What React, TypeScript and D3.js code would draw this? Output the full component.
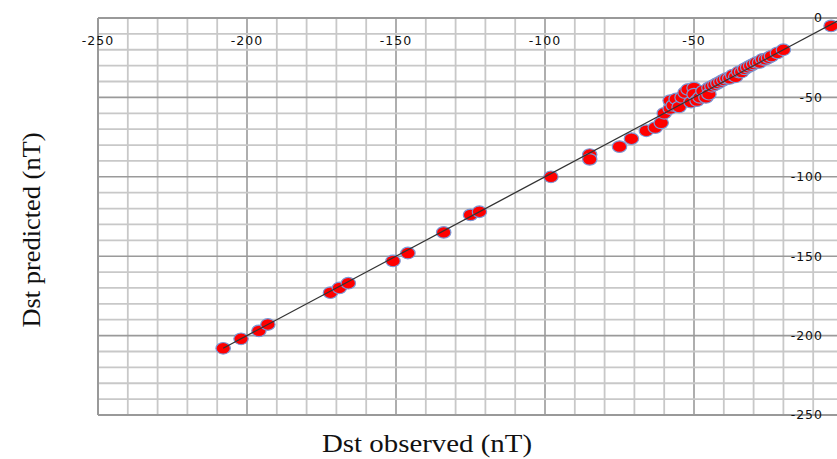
import * as d3 from 'd3';

const observed = [
  -208, -202, -196, -193, -172, -169, -166, -151, -146, -134, -125, -122,
  -98, -85, -85, -75, -71, -66, -63, -61,
  -60, -58, -58, -57, -56, -55, -54, -53, -52, -51, -50, -50, -49, -48, -47,
  -46, -45, -45, -44, -43, -42, -41, -40, -39, -38, -37, -36, -35, -34, -33,
  -32, -31, -30, -29, -28, -27, -26, -25, -24, -22, -20, -4,
];
const predicted = [
  -208, -202, -197, -193, -173, -170, -167, -153, -148, -135, -124, -122,
  -100, -86, -89, -81, -76, -71, -69, -66,
  -60, -57, -52, -55, -51, -56, -50, -47, -45, -53, -44, -48, -52, -50, -46,
  -50, -44, -48, -43, -42, -41, -40, -39, -38, -38, -36, -37, -34, -34, -32,
  -31, -30, -29, -28, -28, -26, -26, -25, -24, -22, -20, -5,
];
// the x axis' 0 falls just past the right edge of the crop
const xTicks = [-250, -200, -150, -100, -50];
const yTicks = [0, -50, -100, -150, -200, -250];

const W = 837;
const H = 459;

export default function App() {
  const x = d3.scaleLinear().domain([-250, 0]).range([98, 843]);
  const y = d3.scaleLinear().domain([0, -250]).range([18, 415]);

  const minor = d3.range(-250, 1, 10);
  const points = observed.map((o, i) => ({ o, p: predicted[i] }));

  return (
    <svg width={W} height={H} style={{ position: 'absolute', left: 0, top: 0, background: '#fff' }}>
      {/* grid */}
      {minor.map((v) => (
        <line key={'gx' + v} x1={x(v)} x2={x(v)} y1={y(0)} y2={y(-250)}
          stroke={v % 50 === 0 ? '#9a9a9a' : '#c8c8c8'} strokeWidth={v % 50 === 0 ? 1.6 : 1.8} />
      ))}
      {minor.map((v) => (
        <line key={'gy' + v} x1={x(-250)} x2={W} y1={y(v)} y2={y(v)}
          stroke={v % 50 === 0 ? '#9a9a9a' : '#c8c8c8'} strokeWidth={v % 50 === 0 ? 1.6 : 1.8} />
      ))}
      <line x1={x(-250)} x2={W} y1={y(0)} y2={y(0)} stroke="#999" strokeWidth={2} />
      <line x1={x(-250)} x2={W} y1={y(-250)} y2={y(-250)} stroke="#999" strokeWidth={2} />
      <line x1={x(-250)} x2={x(-250)} y1={y(0)} y2={y(-250)} stroke="#999" strokeWidth={2} />

      {/* x tick labels (top, inside) */}
      {xTicks.map((t) => (
        <text key={'xt' + t} x={x(t)} y={45} textAnchor="middle"
          fontFamily="DejaVu Sans" fontSize={12.5} letterSpacing={1} fill="#111">
          {t}
        </text>
      ))}
      {/* y tick labels (right, inside) */}
      {yTicks.map((t) => (
        <text key={'yt' + t} x={823} y={y(t)} dy="0.35em" textAnchor="end"
          fontFamily="DejaVu Sans" fontSize={12.5} letterSpacing={1} fill="#111">
          {t}
        </text>
      ))}

      {/* points */}
      {points.map((d, i) => (
        <ellipse key={i} cx={x(d.o)} cy={y(d.p)} rx={7.2} ry={5.8}
          fill="#ff0000" stroke="#7b98d6" strokeWidth={1.2} />
      ))}

      {/* y = x reference line */}
      <line x1={x(-208)} y1={y(-208)} x2={x(0)} y2={y(0)} stroke="#333" strokeWidth={1.2} />

      {/* axis titles */}
      <text x={427} y={452} textAnchor="middle" fontFamily="Liberation Serif"
        fontSize={25} textLength={210} lengthAdjust="spacingAndGlyphs" fill="#111">
        Dst observed (nT)
      </text>
      <text transform="translate(40,230) rotate(-90)" textAnchor="middle"
        fontFamily="Liberation Serif" fontSize={26} textLength={195}
        lengthAdjust="spacingAndGlyphs" fill="#111">
        Dst predicted (nT)
      </text>
    </svg>
  );
}
